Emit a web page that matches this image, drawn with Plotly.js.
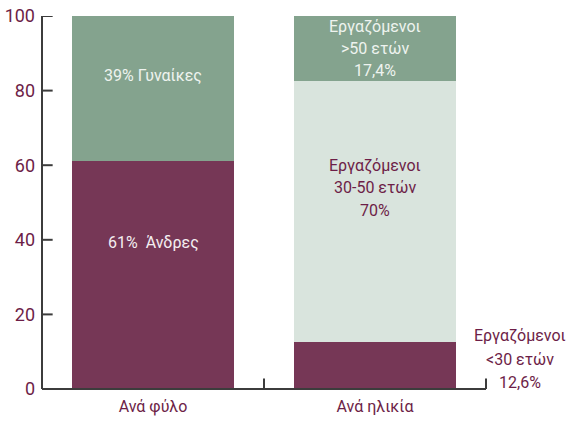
<!DOCTYPE html>
<html><head><meta charset="utf-8">
<script src="https://cdn.plot.ly/plotly-3.0.1.min.js"></script>
<style>body{margin:0;background:#fff}#c{width:569px;height:424px}</style>
</head><body><div id="c"></div>
<script>
const categories = ["Ανά φύλο", "Ανά ηλικία"];
const lowerValues = [61, 12.6];
const middleValues = [0, 70];
const upperValues = [39, 17.4];
const yTicks = [0, 20, 40, 60, 80, 100];

const maroon = "#763756";
const green = "#84a38e";
const light = "#d9e4dd";
const textMaroon = "#6d1e47";
const axisColor = "#3c3c3c";
const font = "Roboto, 'DejaVu Sans', sans-serif";

const traces = [
  {type:"bar", x:categories, y:lowerValues, marker:{color:maroon}, hoverinfo:"none"},
  {type:"bar", x:categories, y:middleValues, marker:{color:light}, hoverinfo:"none"},
  {type:"bar", x:categories, y:upperValues, marker:{color:green}, hoverinfo:"none"}
];

function lines(x, y, arr, color, spacing, xref) {
  const n = arr.length;
  return arr.map((t, i) => ({
    x: x, y: y, xref: xref || "x", yref: "y", text: t, showarrow: false,
    xanchor: "center",
    yshift: ((n - 1) / 2 - i) * spacing,
    font: {family: font, size: 16, color: color}
  }));
}

const annotations = [].concat(
  lines(0, 84, ["39% Γυναίκες"], "#eef3ef", 22),
  lines(0, 39.2, ["61%  Άνδρες"], "#f4eef1", 22),
  lines(1, 54, ["Εργαζόμενοι", "30-50 ετών", "70%"], textMaroon, 22.5),
  lines(1, 91.4, ["Εργαζόμενοι", ">50 ετών", "17,4%"], "#eef3ef", 22),
  lines(1.077, 8, ["Εργαζόμενοι", "<30 ετών", "12,6%"], textMaroon, 23.5, "paper")
);

// axis frame (lines and tick marks) drawn as shapes
const lineStyle = {color: axisColor, width: 2};
const yTickLen = 0.024;   // fraction of plot width
const xTickLen = 0.028;   // fraction of plot height
const shapes = [
  {type:"line", xref:"paper", yref:"paper", x0:0, x1:1, y0:0, y1:0, line:lineStyle, layer:"above"},
  {type:"line", xref:"paper", yref:"paper", x0:0, x1:0, y0:0, y1:1, line:lineStyle, layer:"above"}
].concat(
  yTicks.map(v => ({type:"line", xref:"paper", yref:"y",
    x0:0, x1:yTickLen, y0:v, y1:v, line:lineStyle, layer:"above"})),
  [0.5, 1].map(p => ({type:"line", xref:"paper", yref:"paper",
    x0:p, x1:p, y0:0, y1:xTickLen, line:lineStyle, layer:"above"}))
);

const layout = {
  width: 569, height: 424,
  margin: {l: 42, r: 83, t: 16, b: 35, pad: 0},
  paper_bgcolor: "#fff", plot_bgcolor: "#fff",
  barmode: "stack", bargap: 0.27, showlegend: false,
  font: {family: font, color: textMaroon},
  xaxis: {
    type: "category", range: [-0.5, 1.5], showgrid: false, zeroline: false,
    showline: false, ticks: "", ticklabelstandoff: 6,
    tickfont: {family: font, size: 16, color: textMaroon}
  },
  yaxis: {
    range: [0, 100], tickvals: yTicks, showgrid: false, zeroline: false,
    showline: false, ticks: "", ticklabelstandoff: 6,
    tickfont: {family: font, size: 18, color: textMaroon}
  },
  shapes: shapes,
  annotations: annotations
};

Plotly.newPlot("c", traces, layout, {displayModeBar: false});
</script>
</body></html>
